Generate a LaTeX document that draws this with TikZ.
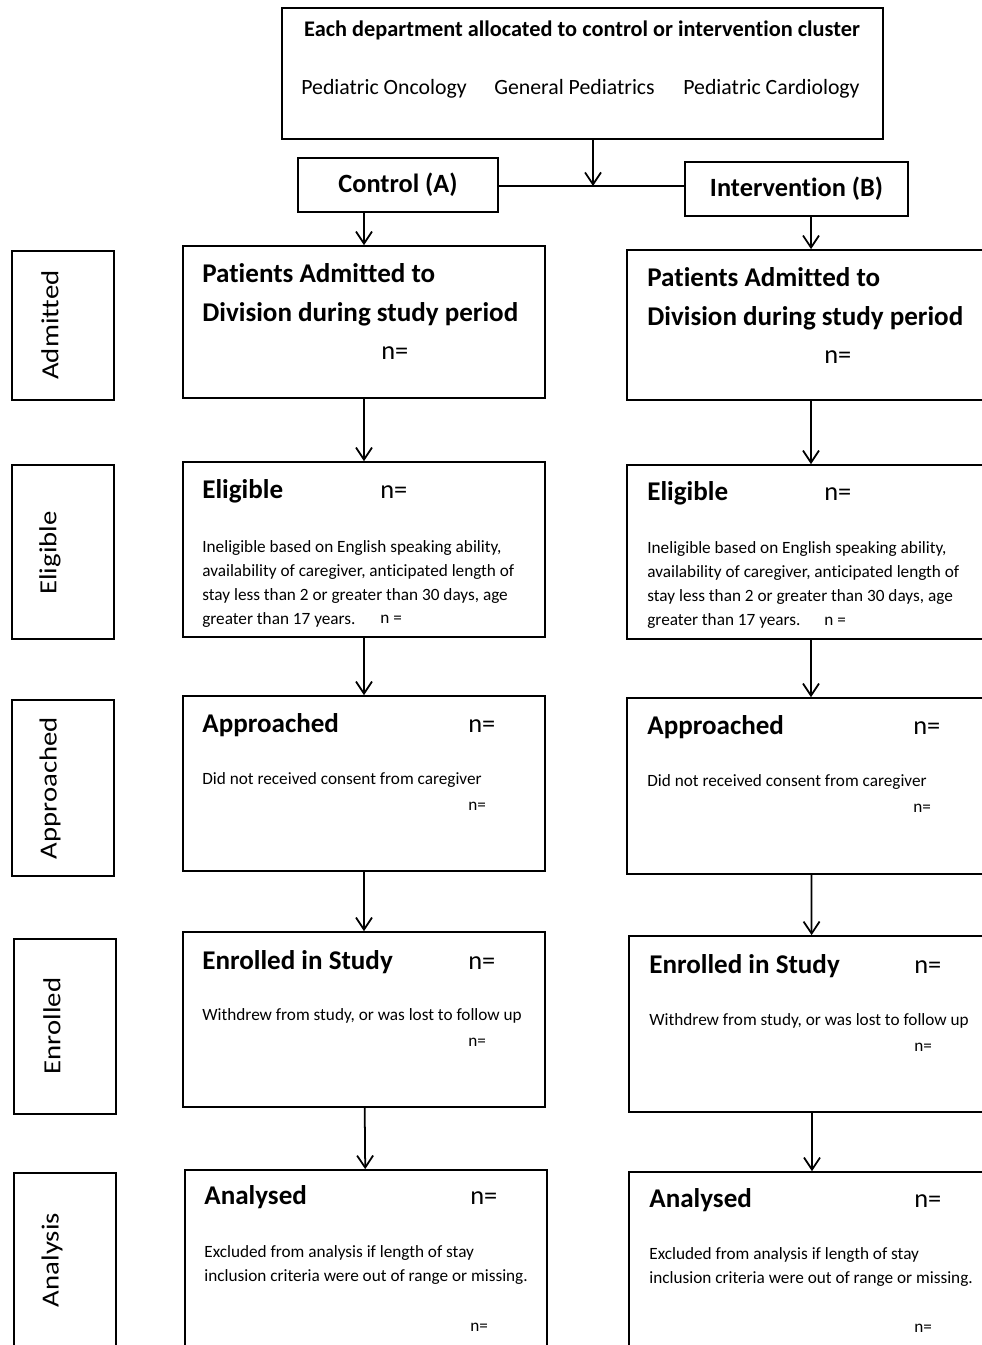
\documentclass[tikz,border=0pt]{standalone}
\usepackage{fontspec}
\setmainfont{Carlito}[Ligatures=NoCommon]
\usetikzlibrary{arrows.meta}

\begin{document}
\begin{tikzpicture}[x=0.02cm, y=-0.02cm,
  box/.style={shape=rectangle, draw=black, line width=1pt, inner sep=0pt},
  head/.style={anchor=base west, inner sep=0pt, align=left, font=\fontsize{15.4}{22}\selectfont\bfseries},
  num/.style={anchor=base west, inner sep=0pt, font=\fontsize{15}{18}\selectfont},
  small/.style={anchor=base west, inner sep=0pt, align=left, font=\fontsize{9.8}{13.6}\selectfont},
  dept/.style={anchor=base west, inner sep=0pt, font=\fontsize{12.4}{15}\selectfont},
  side/.style={rotate=90, inner sep=0pt, font=\fontsize{14}{17}\selectfont},
  link/.style={line width=1pt, draw=black},
  >={Straight Barb[length=2.4mm, width=3.2mm]}]
\useasboundingbox (0,0) rectangle (982,1345);
\clip (0,0) rectangle (982,1345);

% allocation
\node[box, minimum width=12.02cm, minimum height=2.62cm] (top) at (582.5,73.5) {};
\node[anchor=base, inner sep=0pt, font=\fontsize{12.7}{15}\selectfont\bfseries] (toptitle) at (582,37) {Each department allocated to control or intervention cluster};
\node[dept] (onc) at (301,94) {Pediatric Oncology};
\node[dept] (gen) at (494,94) {General Pediatrics};
\node[dept] (card) at (683,94) {Pediatric Cardiology};
\node[box, minimum width=4.0cm, minimum height=1.08cm, font=\fontsize{15}{18}\selectfont\bfseries] (ctrl) at (398,185) {Control (A)};
\node[box, minimum width=4.46cm, minimum height=1.08cm, font=\fontsize{15}{18}\selectfont\bfseries] (intv) at (796.5,189) {Intervention (B)};
\coordinate (split) at (593,186);

% stage labels
\node[box, minimum width=2.04cm, minimum height=2.98cm] (sadm) at (63,325.5) {};
\node[box, minimum width=2.04cm, minimum height=3.48cm] (selig) at (63,552) {};
\node[box, minimum width=2.04cm, minimum height=3.52cm] (sappr) at (63,788) {};
\node[box, minimum width=2.04cm, minimum height=3.50cm] (senr) at (65,1026.5) {};
\node[box, minimum width=2.04cm, minimum height=3.84cm] (sana) at (65,1269) {};
\node[side] (ladm) at (50,325) {\scalebox{1.17}[1]{Admitted}};
\node[side] (lelig) at (50,553) {\scalebox{1.17}[1]{Eligible}};
\node[side] (lappr) at (50,788) {\scalebox{1.17}[1]{Approached}};
\node[side] (lenr) at (52,1026) {\scalebox{1.17}[1]{Enrolled}};
\node[side] (lana) at (52,1260) {\scalebox{1.17}[1]{Analysis}};

% control arm
\node[box, minimum width=7.24cm, minimum height=3.04cm] (a1) at (364,322) {};
\node[box, minimum width=7.24cm, minimum height=3.50cm] (e1) at (364,549.5) {};
\node[box, minimum width=7.24cm, minimum height=3.50cm] (p1) at (364,783.5) {};
\node[box, minimum width=7.24cm, minimum height=3.50cm] (n1) at (364,1019.5) {};
\node[box, minimum width=7.24cm, minimum height=3.90cm] (z1) at (366,1267.5) {};
\node[head] (a1t) at (202,321) {Patients Admitted to\\Division during study period};
\node[num] (a1n) at (381,359) {n=};
\node[head] (e1t) at (202,498) {Eligible};
\node[num] (e1n) at (380,498) {n=};
\node[small] (e1s) at (202,624) {Ineligible based on English speaking ability,\\availability of caregiver, anticipated length of\\stay less than 2 or greater than 30 days, age\\greater than 17 years.};
\node[small] (e1m) at (380,623) {n =};
\node[head] (p1t) at (202,732) {Approached};
\node[num] (p1n) at (468,732) {n=};
\node[small] (p1s) at (202,784) {Did not received consent from caregiver};
\node[small] (p1m) at (468,810) {n=};
\node[head] (n1t) at (202,969) {Enrolled in Study};
\node[num] (n1n) at (468,969) {n=};
\node[small] (n1s) at (202,1020) {Withdrew from study, or was lost to follow up};
\node[small] (n1m) at (468,1046) {n=};
\node[head] (z1t) at (204,1204) {Analysed};
\node[num] (z1n) at (470,1204) {n=};
\node[small] (z1s) at (204,1281) {Excluded from analysis if length of stay\\inclusion criteria were out of range or missing.};
\node[small] (z1m) at (470,1331) {n=};

% intervention arm
\node[box, minimum width=7.36cm, minimum height=3.00cm] (a2) at (811,325) {};
\node[box, minimum width=7.36cm, minimum height=3.48cm] (e2) at (811,552) {};
\node[box, minimum width=7.36cm, minimum height=3.52cm] (p2) at (811,786) {};
\node[box, minimum width=7.32cm, minimum height=3.52cm] (n2) at (812,1024) {};
\node[box, minimum width=7.32cm, minimum height=3.86cm] (z2) at (812,1268.5) {};
\node[head] (a2t) at (647,325) {Patients Admitted to\\Division during study period};
\node[num] (a2n) at (824,363) {n=};
\node[head] (e2t) at (647,500) {Eligible};
\node[num] (e2n) at (824,500) {n=};
\node[small] (e2s) at (647,625) {Ineligible based on English speaking ability,\\availability of caregiver, anticipated length of\\stay less than 2 or greater than 30 days, age\\greater than 17 years.};
\node[small] (e2m) at (824,625) {n =};
\node[head] (p2t) at (647,734) {Approached};
\node[num] (p2n) at (913,734) {n=};
\node[small] (p2s) at (647,786) {Did not received consent from caregiver};
\node[small] (p2m) at (913,812) {n=};
\node[head] (n2t) at (649,973) {Enrolled in Study};
\node[num] (n2n) at (914,973) {n=};
\node[small] (n2s) at (649,1025) {Withdrew from study, or was lost to follow up};
\node[small] (n2m) at (914,1051) {n=};
\node[head] (z2t) at (649,1207) {Analysed};
\node[num] (z2n) at (914,1207) {n=};
\node[small] (z2s) at (649,1283) {Excluded from analysis if length of stay\\inclusion criteria were out of range or missing.};
\node[small] (z2m) at (914,1332) {n=};

% connectors
\draw[link] (ctrl.east |- split) -- (split) -- (split -| intv.west);
\draw[link, ->] (top.south -| split) -- (split);
\draw[link, ->] (ctrl.south -| a1.north) -- (a1.north);
\draw[link, ->] (intv.south -| a2.north) -- (a2.north);
\draw[link, ->] (a1) -- (e1);
\draw[link, ->] (e1) -- (p1);
\draw[link, ->] (p1) -- (n1);
\draw[link, ->] (n1) -- (z1);
\draw[link, ->] (a2) -- (e2);
\draw[link, ->] (e2) -- (p2);
\draw[link, ->] (p2) -- (n2);
\draw[link, ->] (n2) -- (z2);
\end{tikzpicture}
\end{document}
